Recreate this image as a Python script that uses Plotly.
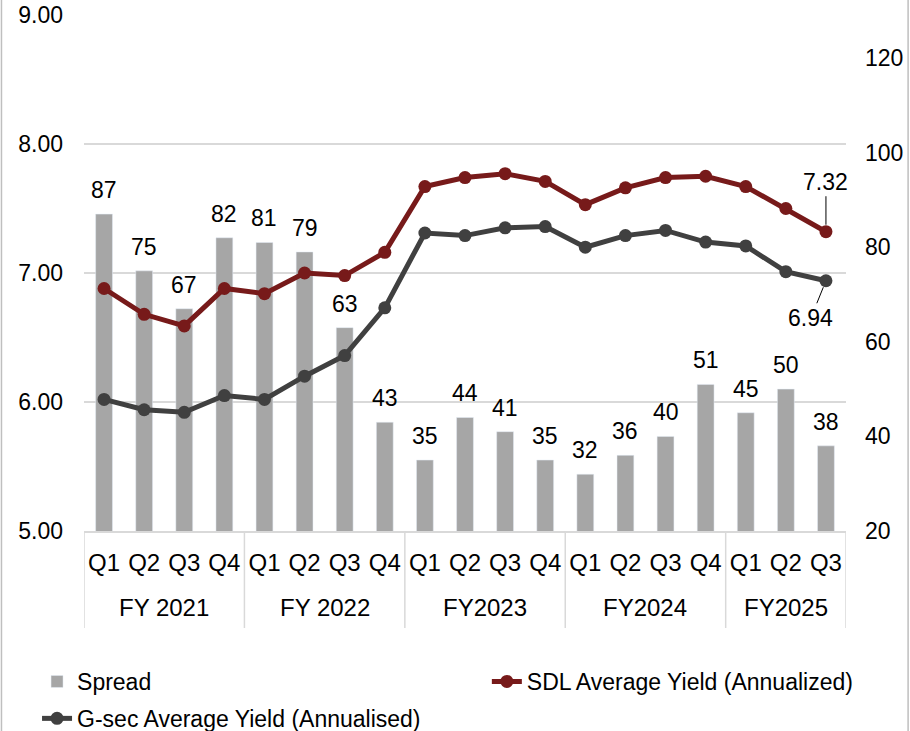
import plotly.graph_objects as go

years = ["FY 2021"] * 4 + ["FY 2022"] * 4 + ["FY2023"] * 4 + ["FY2024"] * 4 + ["FY2025"] * 3
quarters = ["Q1", "Q2", "Q3", "Q4"] * 4 + ["Q1", "Q2", "Q3"]

spread = [87, 75, 67, 82, 81, 79, 63, 43, 35, 44, 41, 35, 32, 36, 40, 51, 45, 50, 38]
sdl_yield = [6.88, 6.68, 6.59, 6.88, 6.84, 7.00, 6.98, 7.16, 7.67, 7.74, 7.77, 7.71,
             7.53, 7.66, 7.74, 7.75, 7.67, 7.50, 7.32]
gsec_yield = [6.02, 5.94, 5.92, 6.05, 6.02, 6.20, 6.36, 6.73, 7.31, 7.29, 7.35, 7.36,
              7.20, 7.29, 7.33, 7.24, 7.21, 7.01, 6.94]

FONT = "Liberation Sans, Arial, sans-serif"
GRID = "#D9D9D9"
x = [f"{y} {q}" for y, q in zip(years, quarters)]

fig = go.Figure()
fig.add_trace(go.Bar(
    x=x, y=spread, name="Spread", marker=dict(color="#A6A6A6"),
    width=0.42, yaxis="y", legend="legend", legendgroup="a"))
fig.add_trace(go.Scatter(
    x=x, y=sdl_yield, name="SDL Average Yield (Annualized)", mode="lines+markers",
    line=dict(color="#771A1A", width=5), marker=dict(color="#771A1A", size=13),
    yaxis="y2", cliponaxis=False, legend="legend2", legendgroup="b"))
fig.add_trace(go.Scatter(
    x=x, y=gsec_yield, name="G-sec Average Yield (Annualised)", mode="lines+markers",
    line=dict(color="#404040", width=5), marker=dict(color="#404040", size=13),
    yaxis="y2", cliponaxis=False, legend="legend", legendgroup="c"))

# bar value labels
for cat, v in zip(x, spread):
    fig.add_annotation(x=cat, y=v, xref="x", yref="y", text=str(v), showarrow=False,
                       yanchor="bottom", yshift=9,
                       font=dict(size=23, color="#000000", family=FONT))

n = len(quarters) - 1
fig.add_annotation(x=n, y=sdl_yield[-1], xref="x", yref="y2", text=f"{sdl_yield[-1]:.2f}",
                   showarrow=True, arrowhead=0, arrowwidth=1, arrowcolor="#000000",
                   ax=0, ay=-50, standoff=7, font=dict(size=23, color="#000000", family=FONT))
fig.add_annotation(x=n, y=gsec_yield[-1], xref="x", yref="y2", text=f"{gsec_yield[-1]:.2f}",
                   showarrow=True, arrowhead=0, arrowwidth=1, arrowcolor="#000000",
                   ax=-15, ay=37, standoff=7, font=dict(size=23, color="#000000", family=FONT))

# fiscal-year group labels and dividers
groups = []
for i, yv in enumerate(years):
    if not groups or groups[-1][0] != yv:
        groups.append([yv, i, i])
    else:
        groups[-1][2] = i
for name, i0, i1 in groups:
    fig.add_annotation(x=(i0 + i1) / 2, y=-0.149, xref="x", yref="paper", text=name,
                       showarrow=False, yanchor="middle",
                       font=dict(size=24, color="#000000", family=FONT))
    fig.add_shape(type="line", xref="x", yref="paper", x0=i0 - 0.5, x1=i0 - 0.5,
                  y0=0, y1=-0.188, line=dict(color=GRID, width=1.5))
fig.add_shape(type="line", xref="x", yref="paper", x0=n + 0.5, x1=n + 0.5,
              y0=0, y1=-0.188, line=dict(color=GRID, width=1.5))

# outer chart frame lines
for xv in [-0.1083, 1.0815]:
    fig.add_shape(type="line", xref="paper", yref="paper", x0=xv, x1=xv, y0=-0.45, y1=1.05,
                  line=dict(color="#BFBFBF", width=1.5))

leg_common = dict(orientation="v", xref="container", yref="container",
                  xanchor="left", yanchor="top", bgcolor="rgba(0,0,0,0)",
                  font=dict(size=23, family=FONT), traceorder="grouped", tracegroupgap=4)

fig.update_layout(
    width=910, height=731,
    margin=dict(l=84, r=64, t=15, b=200, autoexpand=False),
    paper_bgcolor="#FFFFFF", plot_bgcolor="#FFFFFF",
    font=dict(family=FONT, size=23, color="#000000"),
    showlegend=True,
    legend=dict(x=0.0407, y=0.0971, **leg_common),
    legend2=dict(x=0.535, y=0.0971, **leg_common),
    xaxis=dict(type="category", tickvals=x, ticktext=quarters, range=[-0.5, n + 0.5],
               tickfont=dict(size=24, family=FONT), tickangle=0,
               showline=True, linecolor=GRID, linewidth=1.5, automargin=False,
               ticks="", showgrid=False, ticklabelstandoff=9),
    yaxis=dict(side="right", range=[20, 129.1], dtick=20, tick0=20, automargin=False,
               showgrid=False, zeroline=False, tickfont=dict(size=23, family=FONT),
               ticklabelstandoff=18, ticklabeloverflow="allow"),
    yaxis2=dict(side="left", overlaying="y", range=[5, 9], dtick=1, tickformat=".2f",
                automargin=False, ticklabeloverflow="allow",
                showgrid=True, gridcolor=GRID, gridwidth=1.5, zeroline=False,
                tickfont=dict(size=23, family=FONT), ticklabelstandoff=20),
    bargap=0.5,
)

fig.write_html("out.html", config={"displayModeBar": False},
               post_script="document.body.style.margin='0px';")
